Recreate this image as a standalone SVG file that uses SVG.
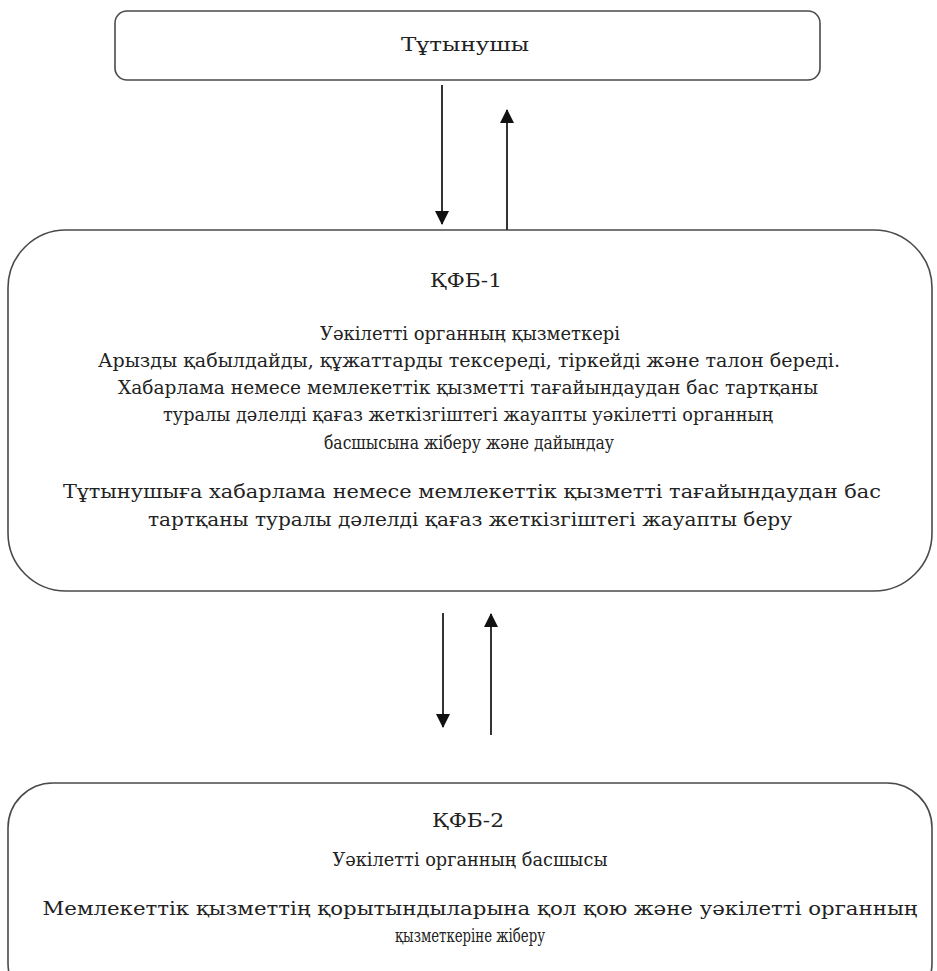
<svg xmlns="http://www.w3.org/2000/svg" width="937" height="971" viewBox="0 0 937 971">
<style>
.box{fill:#fff;stroke:#4a4a4a;stroke-width:1.6}
.t{font-family:"DejaVu Serif","Liberation Serif",serif;font-size:19px;fill:#222;text-anchor:middle}
.c{stroke:#333;stroke-width:2;fill:none}
</style>
<defs>
<marker id="ah" markerWidth="14" markerHeight="16" refX="13" refY="7" orient="auto" markerUnits="userSpaceOnUse">
<path d="M0,0 L14,7 L0,14 Z" fill="#111"/>
</marker>
</defs>
<rect width="937" height="971" fill="#fff"/>
<g id="n1">
<rect class="box" x="115" y="11" width="705" height="69" rx="12" ry="12"/>
<text class="t" x="465" y="51" textLength="128" lengthAdjust="spacingAndGlyphs">Тұтынушы</text>
</g>
<g id="n2">
<rect class="box" x="8" y="230" width="924" height="361" rx="58" ry="58"/>
<text class="t" x="466" y="287" textLength="72" lengthAdjust="spacingAndGlyphs">ҚФБ-1</text>
<text class="t" x="470" y="340" textLength="300" lengthAdjust="spacingAndGlyphs">Уәкілетті органның қызметкері</text>
<text class="t" x="469" y="367" textLength="742" lengthAdjust="spacingAndGlyphs">Арызды қабылдайды, құжаттарды тексереді, тіркейді және талон береді.</text>
<text class="t" x="468" y="394" textLength="700" lengthAdjust="spacingAndGlyphs">Хабарлама немесе мемлекеттік қызметті тағайындаудан бас тартқаны</text>
<text class="t" x="468" y="421" textLength="610" lengthAdjust="spacingAndGlyphs">туралы дәлелді қағаз жеткізгіштегі жауапты уәкілетті органның</text>
<text class="t" x="469" y="449" textLength="290" lengthAdjust="spacingAndGlyphs">басшысына жіберу және дайындау</text>
<text class="t" x="472" y="498" textLength="818" lengthAdjust="spacingAndGlyphs">Тұтынушыға хабарлама немесе мемлекеттік қызметті  тағайындаудан бас</text>
<text class="t" x="470" y="526" textLength="644" lengthAdjust="spacingAndGlyphs">тартқаны туралы дәлелді қағаз жеткізгіштегі жауапты беру</text>
</g>
<g id="n3">
<rect class="box" x="8" y="783" width="924" height="225" rx="45" ry="45"/>
<text class="t" x="468" y="827" textLength="72" lengthAdjust="spacingAndGlyphs">ҚФБ-2</text>
<text class="t" x="470" y="866" textLength="275" lengthAdjust="spacingAndGlyphs">Уәкілетті органның басшысы</text>
<text class="t" x="480" y="915" textLength="875" lengthAdjust="spacingAndGlyphs">Мемлекеттік қызметтің  қорытындыларына қол қою және уәкілетті органның</text>
<text class="t" x="470" y="942" textLength="150" lengthAdjust="spacingAndGlyphs">қызметкеріне жіберу</text>
</g>
<g id="connectors">
<line class="c" x1="442" y1="85" x2="442" y2="224" marker-end="url(#ah)"/>
<line class="c" x1="507" y1="230" x2="507" y2="110" marker-end="url(#ah)"/>
<line class="c" x1="443" y1="613" x2="443" y2="727" marker-end="url(#ah)"/>
<line class="c" x1="491" y1="735" x2="491" y2="614" marker-end="url(#ah)"/>
</g>
</svg>
